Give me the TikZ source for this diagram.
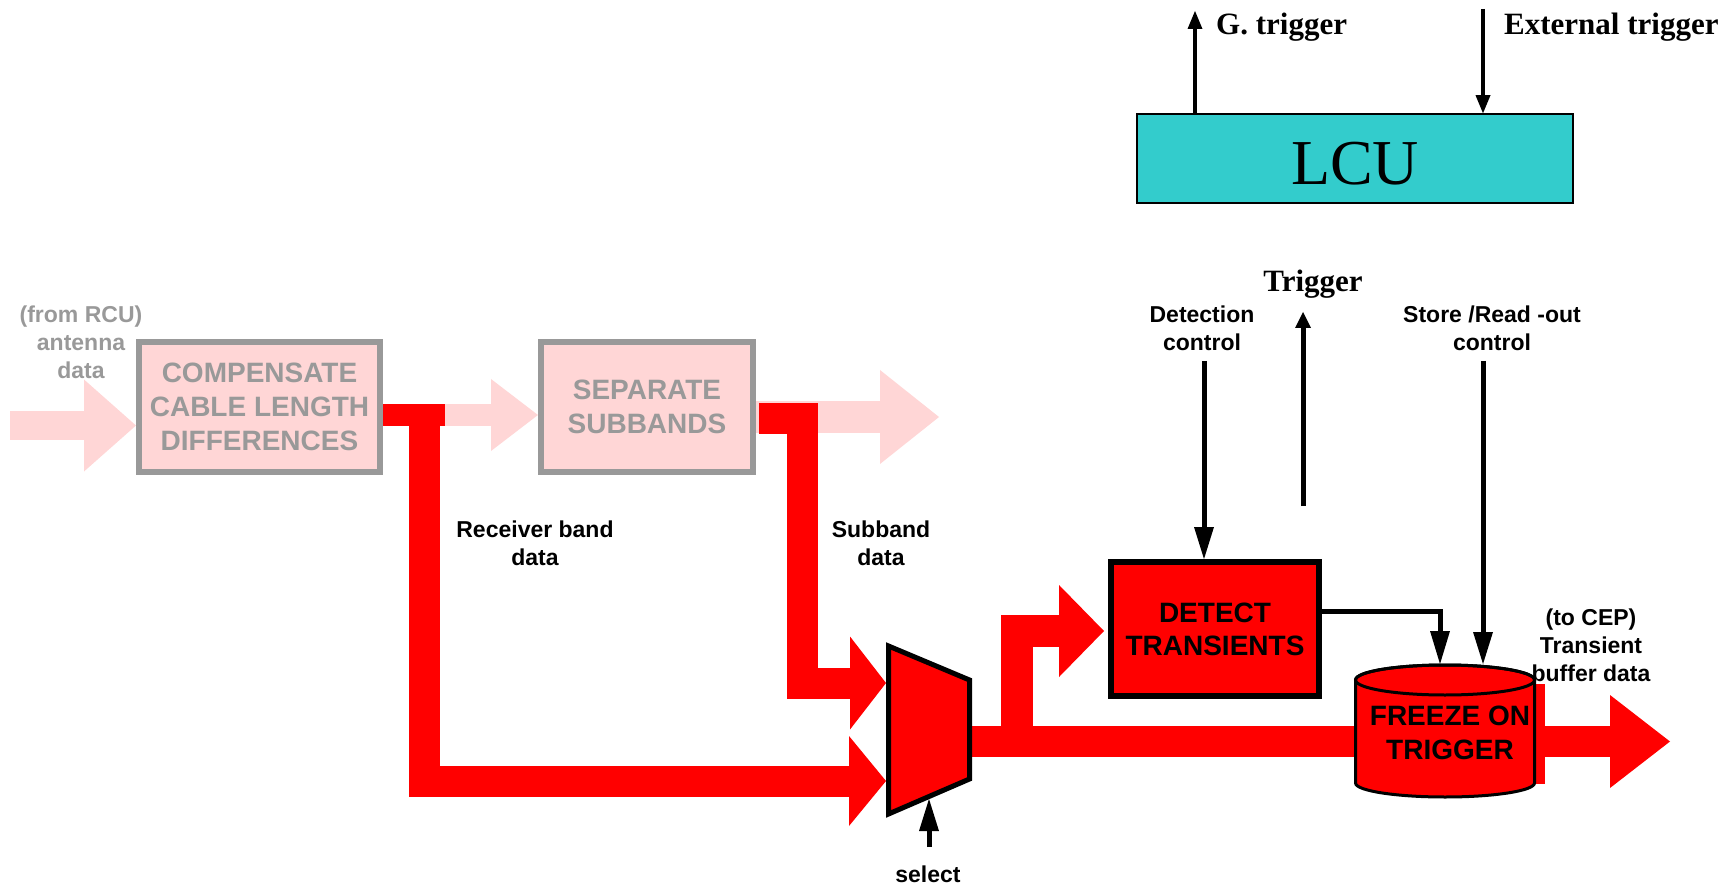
\documentclass[tikz,border=0pt]{standalone}
\usepackage{fontspec}
\setmainfont{Liberation Sans}
\newfontfamily\tnr{Liberation Serif}
\usetikzlibrary{arrows.meta,calc}
\pgfdeclarelayer{background}
\pgfsetlayers{background,main}
\definecolor{flowred}{HTML}{FF0000}
\definecolor{pinkfill}{HTML}{FFD6D6}
\definecolor{greytxt}{HTML}{999999}
\definecolor{lcucyan}{HTML}{33CCCC}
\begin{document}
\begin{tikzpicture}[x=1pt,y=-1pt,
  lbl/.style={font=\bfseries\fontsize{23}{28}\selectfont, align=center, inner sep=0pt},
  glbl/.style={lbl, text=greytxt},
  serif/.style={font=\tnr\bfseries\fontsize{31}{37}\selectfont, inner sep=0pt},
  pinkbox/.style={draw=greytxt, fill=pinkfill, line width=6pt, text=greytxt, font=\bfseries\fontsize{28}{34}\selectfont, align=center, inner sep=0pt},
  redbox/.style={draw=black, fill=flowred, line width=6pt, font=\bfseries\fontsize{28}{33}\selectfont, align=center, inner sep=0pt},
  pinkflow/.style={draw=pinkfill, line cap=butt},
  redflow/.style={draw=flowred, line join=miter, line cap=butt},
  ctl/.style={draw=black, line width=5pt},
  bigtip/.style={-{Triangle[width=20pt,length=32pt,line width=0pt]}},
]
\useasboundingbox (0,0) rectangle (1732,890);

% boxes
\node[pinkbox, minimum width=241pt, minimum height=130pt] (cab) at (259.5,407) {COMPENSATE\\CABLE LENGTH\\DIFFERENCES};
\node[pinkbox, minimum width=212pt, minimum height=130pt] (sep) at (647,407) {SEPARATE\\SUBBANDS};

% coordinates
\coordinate (in-start) at (10,425.5);
\coordinate (sub-out) at (939,417);
\coordinate (mux-tl) at (888.5,646);
\coordinate (mux-tr) at (969.5,680);
\coordinate (mux-br) at (969.5,779);
\coordinate (mux-bl) at (888.5,814);
\coordinate (mux-in1) at (886,683);
\coordinate (mux-in2) at (886,781);
\coordinate (mux-out) at (970,741.5);
\coordinate (mux-sel) at (929,799);
\coordinate (sel-start) at (929,847);
\coordinate (junc) at (1017,741.5);
\coordinate (det-in) at (1104,631);
\coordinate (cep-out) at (1670,741.5);
\coordinate (frz-in1) at (1440,664);
\coordinate (frz-in2) at (1483,664);
\coordinate (dc-top) at (1204,361);
\coordinate (sc-top) at (1483,361);
\coordinate (trig-a) at (1303,506);
\coordinate (trig-b) at (1303,312);
\coordinate (gt-top) at (1195,11);
\coordinate (ext-top) at (1483,9);

% pink flows (behind boxes)
\begin{pgfonlayer}{background}
\draw[pinkflow, line width=29pt, -{Triangle[width=92pt,length=52pt,line width=0pt]}] (in-start) -- (in-start -| cab.west);
\draw[pinkflow, line width=22pt, -{Triangle[width=72pt,length=47pt,line width=0pt]}] ($(cab.east)+(0,8)$) -- ($(sep.west)+(0,8)$);
\draw[pinkflow, line width=32pt, -{Triangle[width=94pt,length=59pt,line width=0pt]}] ($(sep.east)+(0,10)$) -- (sub-out);
\end{pgfonlayer}

% red flows
\draw[redflow, line width=22pt] ($(cab.east)+(0,8)$) -- ++(62,0);
\draw[redflow, line width=31pt, -{Triangle[width=90pt,length=37pt,line width=0pt]}] (424.5,404) -- (424.5,781) -- (mux-in2);
\draw[redflow, line width=31pt, -{Triangle[width=93pt,length=36pt,line width=0pt]}] ($(sep.east)+(3,11.5)$) -- (802,418.5) -- (802,683) -- (mux-in1);
\draw[redflow, line width=31pt, -{Triangle[width=93pt,length=60pt,line width=0pt]}] (mux-out) -- (cep-out);
\draw[redflow, line width=32pt, -{Triangle[width=92pt,length=45pt,line width=0pt]}] (junc) -- (1017,631) -- (det-in);
\fill[flowred] (1530,684) rectangle (1545,784);

% multiplexer
\draw[black, fill=flowred, line width=5pt, line join=miter] (mux-tl) -- (mux-tr) -- (mux-br) -- (mux-bl) -- cycle;

% detect box
\node[redbox, minimum width=208pt, minimum height=134pt] (det) at (1215,629) {DETECT\\TRANSIENTS};

% freeze cylinder
\draw[black, fill=flowred, line width=3pt] (1355.5,680) -- (1355.5,783) arc[start angle=180, end angle=360, x radius=89.5pt, y radius=14pt] -- (1534.5,680) arc[start angle=0, end angle=180, x radius=89.5pt, y radius=15pt] -- cycle;
\draw[black, line width=3pt] (1445,680) ellipse[x radius=89.5pt, y radius=15pt];
\node[font=\bfseries\fontsize{28}{34}\selectfont, align=center, inner sep=0pt] (frz) at (1450,733) {FREEZE ON\\TRIGGER};

% LCU
\node[draw=black, fill=lcucyan, line width=1.5pt, minimum width=436pt, minimum height=89pt, inner sep=0pt, text height=52pt, font=\tnr\fontsize{64}{70}\selectfont] (lcu) at (1355,158.5) {LCU};

% control arrows
\draw[ctl, bigtip] (dc-top) -- (dc-top |- det.north);
\draw[ctl, bigtip] (sc-top) -- (frz-in2);
\draw[ctl, -{Triangle[width=20pt,length=33pt,line width=0pt]}] ($(det.east)+(0,-18)$) -| (frz-in1);
\draw[ctl, -{Triangle[width=16pt,length=16pt,line width=0pt]}] (trig-a) -- (trig-b);
\draw[ctl, bigtip] (sel-start) -- (mux-sel);
\draw[draw=black, line width=4pt, -{Triangle[width=15pt,length=18pt,line width=0pt]}] (gt-top |- lcu.north) -- (gt-top);
\draw[draw=black, line width=4pt, -{Triangle[width=15pt,length=18pt,line width=0pt]}] (ext-top) -- (ext-top |- lcu.north);

% labels
\node[glbl] (rcu) at (81,342) {(from RCU)\\antenna\\data};
\node[lbl] (rbd) at (535,543) {Receiver band\\data};
\node[lbl] (sbd) at (881,543) {Subband\\data};
\node[lbl] (sel) at (928,874) {select};
\node[lbl] (dctl) at (1202,328) {Detection\\control};
\node[lbl] (sctl) at (1492,328) {Store /Read -out\\control};
\node[lbl] (cep) at (1591,645) {(to CEP)\\Transient\\buffer data};
\node[serif, anchor=base] (trig) at (1313,292) {Trigger};
\node[serif, anchor=base west] (gtr) at (1216,35) {G. trigger};
\node[serif, anchor=base west] (etr) at (1504,35) {External trigger};
\end{tikzpicture}
\end{document}
